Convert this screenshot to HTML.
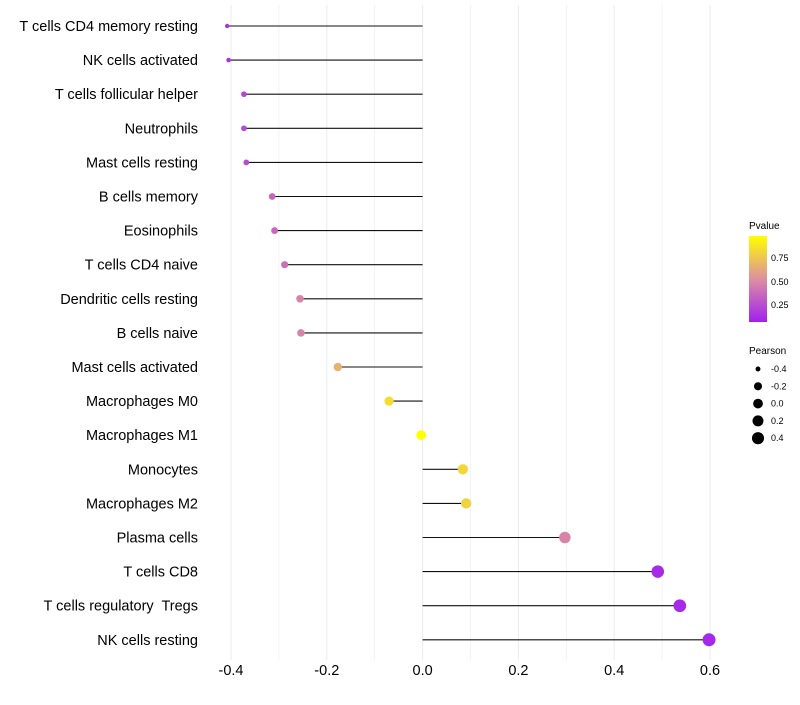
<!DOCTYPE html>
<html><head><meta charset="utf-8"><style>
body{margin:0;background:#fff;font-family:"Liberation Sans",sans-serif}
</style></head><body>
<svg id="c" width="800" height="700" xmlns="http://www.w3.org/2000/svg">
<defs><linearGradient id="pg" x1="0" y1="1" x2="0" y2="0">
<stop offset="0" stop-color="#a020f0"/><stop offset="0.5" stop-color="#dd8fa0"/><stop offset="1" stop-color="#ffff00"/></linearGradient></defs>
<g id="grid"></g><g id="marks"></g><g id="labels"></g>
<g font-size="9" fill="#000">
<text x="749" y="229" font-size="10">Pvalue</text>
<rect x="749" y="236" width="18" height="86" fill="url(#pg)"/>
<text x="771" y="261">0.75</text>
<text x="771" y="285">0.50</text>
<text x="771" y="308">0.25</text>
<text x="749" y="354" font-size="10">Pearson</text>
<g id="sizeleg"></g>
</g>
</svg>
<script>
const categories=["T cells CD4 memory resting","NK cells activated","T cells follicular helper","Neutrophils","Mast cells resting","B cells memory","Eosinophils","T cells CD4 naive","Dendritic cells resting","B cells naive","Mast cells activated","Macrophages M0","Macrophages M1","Monocytes","Macrophages M2","Plasma cells","T cells CD8","T cells regulatory  Tregs","NK cells resting"];
const pearson=[-0.408,-0.405,-0.373,-0.373,-0.368,-0.314,-0.309,-0.288,-0.256,-0.254,-0.177,-0.070,-0.003,0.084,0.091,0.297,0.491,0.537,0.598];
const pvalue=[0.08,0.09,0.18,0.18,0.2,0.32,0.32,0.36,0.45,0.45,0.65,0.85,1.0,0.82,0.8,0.45,0.05,0.05,0.04];
const xTicks=[-0.4,-0.2,0,0.2,0.4,0.6];
const xTickLabels=["-0.4","-0.2","0.0","0.2","0.4","0.6"];
const sizeLegendValues=[-0.4,-0.2,0,0.2,0.4];
const sizeLegendLabels=["-0.4","-0.2","0.0","0.2","0.4"];
const NS="http://www.w3.org/2000/svg";
const x=v=>422.6+v*479, y=i=>26+i*34.1;
const rad=v=>2+4.5*Math.sqrt(Math.max(0,(v+0.41)/1.01));
function lerp(a,b,t){return a.map((c,k)=>Math.round(c+(b[k]-c)*t));}
function col(p){const s=[[160,32,240],[221,143,160],[255,255,0]];const r=p<0.5?lerp(s[0],s[1],p/0.5):lerp(s[1],s[2],(p-0.5)/0.5);return `rgb(${r})`;}
function mk(t,a,parent){const e=document.createElementNS(NS,t);for(const k in a)e.setAttribute(k,a[k]);parent.appendChild(e);return e;}
const grid=document.getElementById('grid'),marks=document.getElementById('marks'),labels=document.getElementById('labels');
for(let v=-0.4;v<=0.61;v+=0.1){const l=mk('line',{x1:x(v),x2:x(v),y1:5,y2:660,stroke:'#ebebeb','stroke-width':Math.abs(Math.round(v*10))%2===0?1:0.6},grid);

}
xTicks.forEach((v,i)=>{const t=mk('text',{x:x(v),y:675,'text-anchor':'middle','font-size':14.5,fill:'#000'},labels);t.textContent=xTickLabels[i];

});
categories.forEach((c,i)=>{const t=mk('text',{x:198,y:y(i)+5,'text-anchor':'end','font-size':14.5,fill:'#000',style:'white-space:pre'},labels);t.textContent=c;


const l=mk('line',{x1:x(0),x2:x(pearson[i]),y1:y(i),y2:y(i),stroke:'#111','stroke-width':1.1},marks);


const p=mk('circle',{cx:x(pearson[i]),cy:y(i),r:rad(pearson[i]),fill:col(pvalue[i])},marks);

});
const sl=document.getElementById('sizeleg');
sizeLegendValues.forEach((v,i)=>{const cy=369+i*17.3;const c=mk('circle',{cx:758,cy:cy,r:rad(v),fill:'#000'},sl);


const t=mk('text',{x:771,y:cy+3,'font-size':9},sl);t.textContent=sizeLegendLabels[i];

});
</script>
</body></html>
